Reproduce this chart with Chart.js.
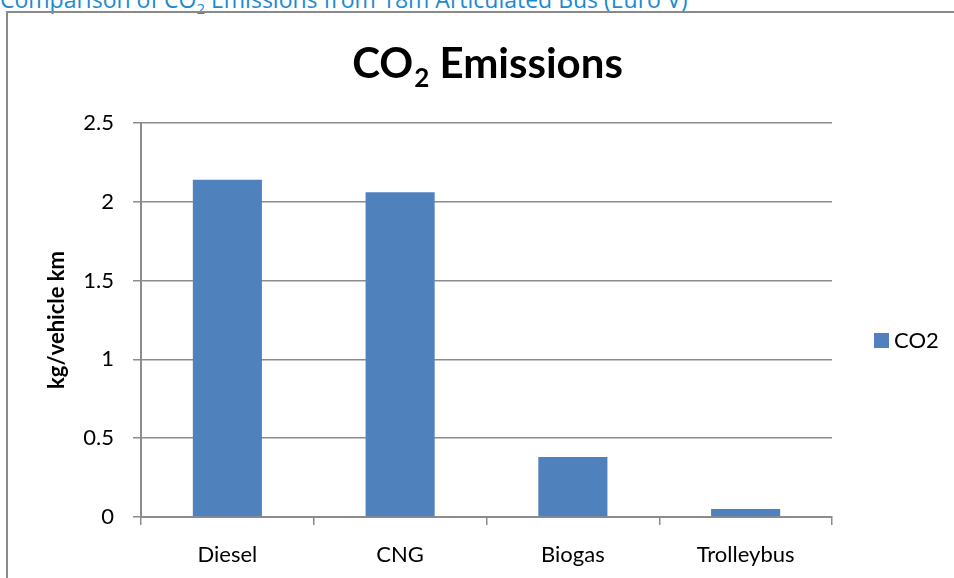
<!DOCTYPE html>
<html>
<head>
<meta charset="utf-8">
<script src="https://cdn.jsdelivr.net/npm/chart.js@4/dist/chart.umd.min.js"></script>
<style>
  html, body { margin: 0; padding: 0; background: #fff; overflow: hidden; }
  body { width: 954px; height: 578px; position: relative; }
  .caption {
    position: absolute; left: 0; top: -17px; line-height: 23px;
    font: 23px "Open Sans", sans-serif; color: #1b8ad3; white-space: nowrap;
  }
  .caption sub { font-size: 15px; line-height: 0; }
  .frame {
    position: absolute; left: 6px; top: 11px;
    width: 960px; height: 580px;
    border-left: 2px solid #8a8a8a; border-top: 2px solid #8a8a8a;
  }
  #co2Chart { display: block; }
</style>
</head>
<body>
<div class="caption">Comparison of CO<sub>2</sub> Emissions from 18m Articulated Bus (Euro V)</div>
<div class="frame">
  <canvas id="co2Chart" width="960" height="580"></canvas>
</div>
<script>
// Bus technologies and their CO2 output per vehicle km
const categories = ['Diesel', 'CNG', 'Biogas', 'Trolleybus'];
const co2Values = [2.14, 2.06, 0.38, 0.05];
const seriesName = 'CO2';
const yTicks = [0, 0.5, 1, 1.5, 2, 2.5];

const BAR_BLUE = '#4f81bd';
const AXIS_GRAY = '#8c8c8c';
const FONT = 'Lato, "Open Sans", sans-serif';

// Title with subscripted "2", centred over the whole canvas
const titlePlugin = {
  id: 'subTitle',
  afterDraw(chart) {
    const ctx = chart.ctx;
    const big = 'bold 42px ' + FONT;
    const small = 'bold 26px ' + FONT;
    ctx.save();
    ctx.fillStyle = '#000';
    ctx.textBaseline = 'alphabetic';
    ctx.font = big;
    const w1 = ctx.measureText('CO').width;
    const w3 = ctx.measureText(' Emissions').width;
    ctx.font = small;
    const w2 = ctx.measureText('2').width;
    let x = 479 - (w1 + w2 + w3) / 2;
    const y = 65;
    ctx.font = big;
    ctx.fillText('CO', x, y);
    x += w1 + 1;
    ctx.font = small;
    ctx.fillText('2', x, y + 9);
    x += w2;
    ctx.font = big;
    ctx.fillText(' Emissions', x, y);
    ctx.restore();
  }
};

// Single-entry legend to the right of the plot
const sideLegend = {
  id: 'sideLegend',
  afterDraw(chart) {
    const ctx = chart.ctx;
    const ds = chart.data.datasets[0];
    ctx.save();
    ctx.fillStyle = ds.backgroundColor;
    ctx.fillRect(866, 320, 15, 15);
    ctx.fillStyle = '#000';
    ctx.font = '22px ' + FONT;
    ctx.textBaseline = 'middle';
    ctx.fillText(ds.label, 886, 328);
    ctx.restore();
  }
};

new Chart(document.getElementById('co2Chart'), {
  type: 'bar',
  data: {
    labels: categories,
    datasets: [{
      label: seriesName,
      data: co2Values,
      backgroundColor: BAR_BLUE,
      borderWidth: 0,
      barPercentage: 0.4,
      categoryPercentage: 1
    }]
  },
  options: {
    responsive: false,
    animation: false,
    layout: { padding: { top: 110, right: 136, bottom: 0, left: 0 } },
    plugins: {
      legend: { display: false },
      title: { display: false },
      tooltip: { enabled: false }
    },
    scales: {
      x: {
        afterFit(scale) { scale.height = 76; },
        grid: {
          offset: true,
          drawOnChartArea: false,
          drawTicks: true,
          tickLength: 8,
          color: AXIS_GRAY,
          lineWidth: 1.5
        },
        border: { color: AXIS_GRAY, width: 2 },
        ticks: { color: '#000', font: { family: FONT, size: 22 }, padding: 17 }
      },
      y: {
        min: 0,
        max: 2.5,
        afterFit(scale) { scale.width = 133; },
        afterBuildTicks(scale) { scale.ticks = yTicks.map(v => ({ value: v })); },
        grid: { color: AXIS_GRAY, lineWidth: 1.5, tickLength: 8 },
        border: { color: AXIS_GRAY, width: 2 },
        ticks: {
          color: '#000',
          font: { family: FONT, size: 22 },
          padding: 19,
          callback: v => String(v)
        },
        title: {
          display: true,
          text: 'kg/vehicle km',
          color: '#000',
          font: { family: FONT, size: 22, weight: 'bold' },
          padding: { top: 36, bottom: 0 }
        }
      }
    }
  },
  plugins: [titlePlugin, sideLegend]
});
</script>
</body>
</html>
